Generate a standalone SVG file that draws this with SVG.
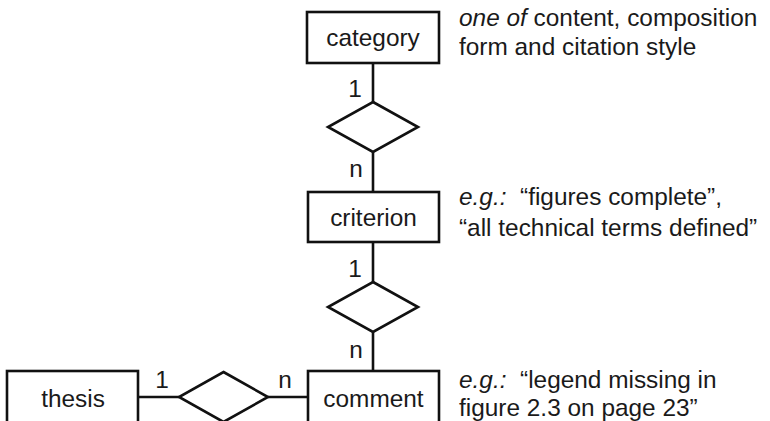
<svg xmlns="http://www.w3.org/2000/svg" width="770" height="421" viewBox="0 0 770 421">
  <style>
    .box { fill: #ffffff; stroke: #111111; stroke-width: 2.6; }
    .rel { fill: #ffffff; stroke: #111111; stroke-width: 2.6; stroke-linejoin: miter; }
    .edge { stroke: #111111; stroke-width: 2.6; fill: none; }
    text { font-family: "Liberation Sans", Arial, sans-serif; font-size: 24.4px; fill: #1a1a1a; }
    .label { text-anchor: middle; }
    .card { text-anchor: middle; }
    .note { white-space: pre; }
    .it { font-style: italic; }
  </style>
  <rect width="770" height="421" fill="#ffffff"/>

  <!-- connectors -->
  <g id="connectors">
    <line class="edge" x1="373" y1="63" x2="373" y2="102"/>
    <line class="edge" x1="373" y1="152" x2="373" y2="192"/>
    <line class="edge" x1="373" y1="242" x2="373" y2="282"/>
    <line class="edge" x1="373" y1="332" x2="373" y2="371"/>
    <line class="edge" x1="138" y1="397" x2="179" y2="397"/>
    <line class="edge" x1="268" y1="397" x2="308" y2="397"/>
    <text class="card" x="355" y="97">1</text>
    <text class="card" x="356" y="177">n</text>
    <text class="card" x="355" y="277">1</text>
    <text class="card" x="356" y="358">n</text>
    <text class="card" x="162" y="388">1</text>
    <text class="card" x="285" y="388">n</text>
  </g>

  <!-- entities -->
  <g id="category">
    <rect class="box" x="307" y="12" width="132" height="51"/>
    <text class="label" x="373" y="46">category</text>
  </g>
  <g id="criterion">
    <rect class="box" x="308" y="192" width="131" height="50"/>
    <text class="label" x="373.5" y="226">criterion</text>
  </g>
  <g id="comment">
    <rect class="box" x="308" y="371" width="131" height="52"/>
    <text class="label" x="373.5" y="407">comment</text>
  </g>
  <g id="thesis">
    <rect class="box" x="7" y="371" width="131" height="52"/>
    <text class="label" x="73" y="407">thesis</text>
  </g>

  <!-- relationships -->
  <g id="rel-category-criterion">
    <polygon class="rel" points="373,102 418,127 373,152 328,127"/>
  </g>
  <g id="rel-criterion-comment">
    <polygon class="rel" points="373,282 418,307 373,332 328,307"/>
  </g>
  <g id="rel-thesis-comment">
    <polygon class="rel" points="223.5,372 268,397 223.5,422 179,397"/>
  </g>

  <!-- annotations -->
  <g id="note-category">
    <text class="note" x="459" y="26"><tspan class="it">one of</tspan> content, composition</text>
    <text class="note" x="459" y="55">form and citation style</text>
  </g>
  <g id="note-criterion">
    <text class="note" x="459" y="205"><tspan class="it">e.g.:</tspan>  “figures complete”,</text>
    <text class="note" x="459" y="236">“all technical terms defined”</text>
  </g>
  <g id="note-comment">
    <text class="note" x="459" y="388"><tspan class="it">e.g.:</tspan>  “legend missing in</text>
    <text class="note" x="459" y="416">figure 2.3 on page 23”</text>
  </g>
</svg>
